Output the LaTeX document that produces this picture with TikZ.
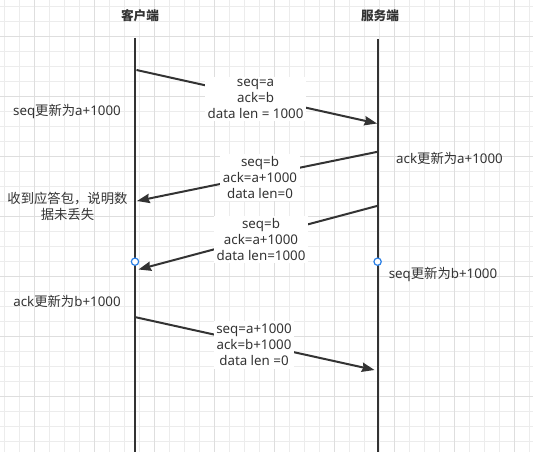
\documentclass[tikz,border=0pt]{standalone}
\usepackage{fontspec}
\setmainfont{Noto Sans}
\newfontfamily\cjk{Noto Sans CJK SC}
\usetikzlibrary{arrows.meta}
\definecolor{inkgray}{RGB}{51,51,51}
\definecolor{gridminor}{RGB}{236,236,236}
\definecolor{gridmajor}{RGB}{222,222,222}
\definecolor{handleblue}{RGB}{41,127,230}
\tikzset{
  lifeline/.style={draw=inkgray, line width=1.5pt},
  msg/.style={-{Stealth[length=9.5pt,width=7pt,inset=1pt]}, draw=inkgray, fill=inkgray, line width=1.5pt},
  msglabel/.style={fill=white, align=center, inner sep=2pt, text=inkgray,
    font=\fontsize{10}{12}\selectfont},
  note/.style={align=center, inner sep=1pt, text=inkgray,
    font=\fontsize{10}{12}\selectfont},
  headlabel/.style={inner sep=1pt, text=inkgray, font=\cjk\bfseries\fontsize{9.5}{12}\selectfont},
  handle/.style={circle, draw=handleblue, fill=white, line width=0.9pt,
    inner sep=0pt, minimum size=5.5pt}
}

\begin{document}
\begin{tikzpicture}[x=0.75pt, y=-0.75pt]
\useasboundingbox[fill=white] (0,0) rectangle (533,452);

% background grid
\foreach \x in {4,19,...,529} \draw[gridminor, line width=0.75pt] (\x,0) -- (\x,452);
\foreach \y in {7,22,...,442} \draw[gridminor, line width=0.75pt] (0,\y) -- (533,\y);
\foreach \x in {34,94,...,514} \draw[gridmajor, line width=0.75pt] (\x,0) -- (\x,452);
\foreach \y in {37,97,...,397} \draw[gridmajor, line width=0.75pt] (0,\y) -- (533,\y);

% lifelines
\node[headlabel] (client) at (140,16) {客户端};
\node[headlabel] (server) at (380,16) {服务端};
\coordinate (ctop) at (135,38);
\coordinate (cbot) at (135,452);
\coordinate (srvtop) at (377.6,39);
\coordinate (srvbot) at (377.6,452);
\draw[lifeline] (ctop) -- (cbot);
\draw[lifeline] (srvtop) -- (srvbot);

% message end points
\coordinate (c1) at (136.5,70);
\coordinate (s1) at (377,123.5);
\coordinate (s2) at (378,151.7);
\coordinate (c2) at (137,201);
\coordinate (s3) at (378,205.7);
\coordinate (c3) at (138.5,269.5);
\coordinate (c4) at (136,317.3);
\coordinate (s4) at (374.5,370);

\draw[msg] (c1) -- (s1);
\draw[msg] (s2) -- (c2);
\draw[msg] (s3) -- (c3);
\draw[msg] (c4) -- (s4);

\node[msglabel] (m1) at (255.6,99) {seq=a\\ack=b\\data len = 1000};
\node[msglabel] (m2) at (260,177.7) {seq=b\\ack=a+1000\\data len=0};
\node[msglabel] (m3) at (261,239.5) {seq=b\\ack=a+1000\\data len=1000};
\node[msglabel] (m4) at (254,345) {seq=a+1000\\ack=b+1000\\data len =0};

% selection handles
\node[handle] (ch) at (135,261.7) {};
\node[handle] (sh) at (377.6,261.7) {};

% state notes
\node[note] (n1) at (67,111.7) {seq{\cjk 更新为}a+1000};
\node[note] (n2) at (449.5,158.3) {ack{\cjk 更新为}a+1000};
\node[note] (n3) at (67.5,206.7) {{\cjk 收到应答包，说明数}\\{\cjk 据未丢失}};
\node[note] (n4) at (443,274.3) {seq{\cjk 更新为}b+1000};
\node[note] (n5) at (67,301.7) {ack{\cjk 更新为}b+1000};
\end{tikzpicture}
\end{document}
